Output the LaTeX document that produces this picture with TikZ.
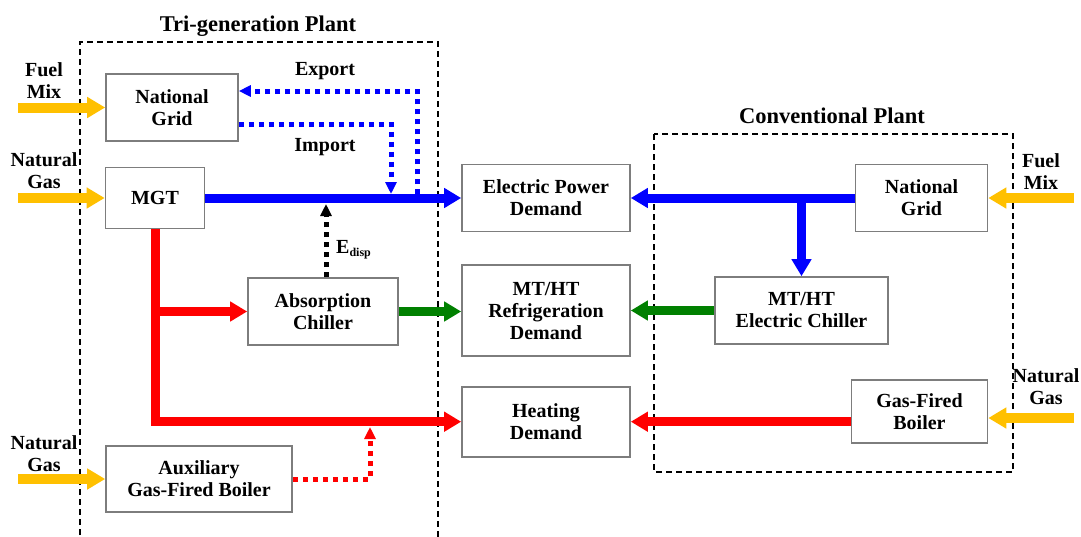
\documentclass[tikz,border=0pt]{standalone}
\usepackage{fontspec}
\setmainfont{Liberation Serif}
\usepackage{tikz}
\usetikzlibrary{arrows.meta,positioning}

\definecolor{elecblue}{RGB}{0,0,255}
\definecolor{heatred}{RGB}{255,0,0}
\definecolor{coolgreen}{RGB}{0,128,0}
\definecolor{fuelyellow}{RGB}{255,192,0}
\definecolor{boxgray}{RGB}{125,125,125}

\begin{document}
\begin{tikzpicture}[x=1pt,y=-1pt,
  block/.style={draw=boxgray,line width=1.6pt,fill=white,align=center,inner sep=0pt,
    font=\bfseries\fontsize{20}{22}\selectfont},
  lbl/.style={align=center,inner sep=0pt,font=\bfseries\fontsize{20}{22}\selectfont},
  ttl/.style={inner sep=0pt,anchor=base,font=\bfseries\fontsize{22.5}{26}\selectfont},
  flow/.style={line width=9pt,-{Triangle[length=17pt,width=19pt]}},
  feed/.style={line width=10pt,fuelyellow,-{Triangle[length=18pt,width=20pt]}},
  dotflow/.style={line width=5pt,dash pattern=on 5pt off 5pt,-{Triangle[length=12pt,width=11pt]}},
  plant/.style={line width=1.2pt,dash pattern=on 6pt off 4pt}
]
  \useasboundingbox (0,0) rectangle (1081,536);

  \draw[plant] (80,545) |- (438,42) -- (438,545);
  \draw[plant] (654,134) rectangle (1013,472);
  \node[ttl] (trititle) at (258,31.5) {Tri-generation Plant};
  \node[ttl] (convtitle) at (832,123.5) {Conventional Plant};

  \node[block,minimum width=132pt,minimum height=67pt] (ngL) at (172,107.5) {National\\Grid};
  \node[block,minimum width=99pt,minimum height=61pt] (mgt) at (155,198) {MGT};
  \node[block,minimum width=150pt,minimum height=67pt] (abs) at (323,311.5) {Absorption\\Chiller};
  \node[block,minimum width=186pt,minimum height=66pt] (aux) at (199,479) {Auxiliary\\Gas-Fired Boiler};

  \node[block,minimum width=168pt,minimum height=67pt] (epd) at (546,198) {Electric Power\\Demand};
  \node[block,minimum width=168pt,minimum height=91pt,below=32pt of epd] (ref) {MT/HT\\Refrigeration\\Demand};
  \node[block,minimum width=168pt,minimum height=70pt,below=29pt of ref] (heat) {Heating\\Demand};

  \node[block,minimum width=132pt,minimum height=67pt] (ngR) at (921.5,198) {National\\Grid};
  \node[block,minimum width=173pt,minimum height=67pt] (chil) at (801.5,310.5) {MT/HT\\Electric Chiller};
  \node[block,minimum width=136pt,minimum height=63pt] (gfb) at (919.5,411.5) {Gas-Fired\\Boiler};

  \coordinate (fmL) at (18,107.5);
  \coordinate (ngasA) at (18,198);
  \coordinate (ngasB) at (18,479);
  \coordinate (fmR) at (1074,198);
  \coordinate (ngasR) at (1074,418);
  \node[lbl] (fuelL) at (44,81) {Fuel\\Mix};
  \node[lbl] (gasA) at (44,171) {Natural\\Gas};
  \node[lbl] (gasB) at (44,454) {Natural\\Gas};
  \node[lbl] (fuelR) at (1041,172) {Fuel\\Mix};
  \node[lbl] (gasR) at (1046,386.5) {Natural\\Gas};

  \draw[feed] (fmL) -- (ngL);
  \draw[feed] (ngasA) -- (mgt);
  \draw[feed] (ngasB) -- (aux);
  \draw[feed] (fmR) -- (ngR);
  \draw[feed] (ngasR) -- (ngasR -| gfb.east);

  \draw[flow,elecblue] (mgt) -- (epd);
  \draw[flow,elecblue] (ngR) -- (epd);
  \draw[flow,elecblue] (chil.north |- ngR.west) -- (chil.north);

  \draw[flow,heatred,line join=miter] (mgt.south) |- (heat.west);
  \draw[flow,heatred] (mgt.south |- abs.west) -- (abs.west);
  \draw[flow,heatred] (gfb.west |- heat.east) -- (heat.east);

  \draw[flow,coolgreen] (abs.east) -- (abs.east -| ref.west);
  \draw[flow,coolgreen] (chil.west) -- (chil.west -| ref.east);

  \coordinate (expfoot) at (417,194);
  \coordinate (impfoot) at (391,194);
  \coordinate (edtop) at (326,204);
  \coordinate (auxjoin) at (370,427);
  \draw[dotflow,elecblue] (expfoot) |- ([yshift=16.5pt]ngL.east);
  \draw[dotflow,elecblue] ([yshift=-16.5pt]ngL.east) -| (impfoot);
  \draw[dotflow,black] ([xshift=3pt]abs.north) -- (edtop);
  \draw[dotflow,heatred] (aux.east) -| (auxjoin);

  \node[lbl,anchor=base] (export) at (325,75.6) {Export};
  \node[lbl,anchor=base] (import) at (325,151.6) {Import};
  \node[lbl,anchor=base west] (edisp) at (336,253.6) {E\raisebox{-3pt}{\fontsize{12}{12}\selectfont disp}};
\end{tikzpicture}
\end{document}
